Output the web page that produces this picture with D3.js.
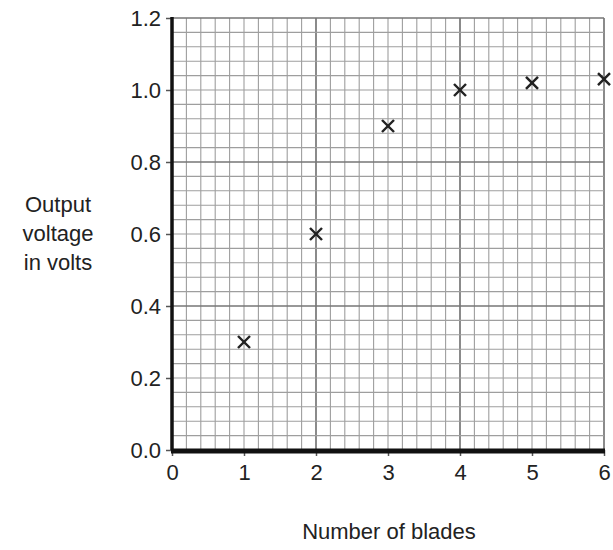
<!DOCTYPE html>
<html>
 <head>
   <title>Output voltage vs blades</title>
   <script type="text/javascript" src="https://cdn.jsdelivr.net/npm/d3@7"></script>
   <style type="text/css">
		body { margin: 0; background: #fff; }
		svg { width: 613px; height: 550px; display: block; }
		text {
			font-family: Arial, "Liberation Sans", sans-serif;
			fill: #222;
		}
		.minor { stroke: #9e9e9e; stroke-width: 1.1; }
		.major { stroke: #767676; stroke-width: 1.7; }
		.mark { stroke: #222; stroke-width: 2.4; }
   </style>
 </head>
 <body>
   <script type="text/javascript">

	// data
	var blades = [1, 2, 3, 4, 5, 6];
	var volts = [0.3, 0.6, 0.9, 1.0, 1.02, 1.03];

	var xTickVals = [0, 1, 2, 3, 4, 5, 6];
	var yTickVals = [0, 0.2, 0.4, 0.6, 0.8, 1.0, 1.2];
	var yTitle = ['Output', 'voltage', 'in volts'];
	var xTitle = 'Number of blades';

	var x = d3.scaleLinear().domain([0, 6]).range([172, 604]);
	var y = d3.scaleLinear().domain([0, 1.2]).range([450, 18]);

	var svg = d3.select('body').append('svg');

	// graph paper: small squares 0.2 across, 0.04 up; heavy lines every 2 / 0.4
	var xMinor = d3.range(0, 31).map(function(i) { return i * 0.2; });
	var yMinor = d3.range(0, 31).map(function(i) { return i * 0.04; });

	var grid = svg.append('g');
	grid.selectAll('line.vx').data(xMinor)
		.enter().append('line')
		.attr('class', function(d, i) { return i % 10 == 0 ? 'major' : 'minor'; })
		.attr('x1', function(d) { return x(d); })
		.attr('x2', function(d) { return x(d); })
		.attr('y1', y(0))
		.attr('y2', y(1.2));

	grid.selectAll('line.hy').data(yMinor)
		.enter().append('line')
		.attr('class', function(d, i) { return i % 10 == 0 ? 'major' : 'minor'; })
		.attr('y1', function(d) { return y(d); })
		.attr('y2', function(d) { return y(d); })
		.attr('x1', x(0))
		.attr('x2', x(6));

	// axes
	var xAxis = d3.axisBottom(x).tickValues(xTickVals).tickSize(6).tickPadding(8)
		.tickFormat(d3.format('d'));
	var yAxis = d3.axisLeft(y).tickValues(yTickVals).tickSize(6).tickPadding(5)
		.tickFormat(d3.format('.1f'));

	var gx = svg.append('g').attr('transform', 'translate(0,' + y(0) + ')').call(xAxis);
	var gy = svg.append('g').attr('transform', 'translate(' + x(0) + ',0)').call(yAxis);

	gx.select('.domain').remove();
	gy.select('.domain').remove();
	gx.selectAll('.tick line').attr('stroke', '#555').attr('stroke-width', 1.5);
	gy.selectAll('.tick line').attr('stroke', '#555').attr('stroke-width', 1.5);
	gx.selectAll('.tick text').attr('font-size', 22).attr('fill', '#222')
		.attr('font-family', 'Arial, "Liberation Sans", sans-serif');
	gy.selectAll('.tick text').attr('font-size', 22).attr('fill', '#222')
		.attr('font-family', 'Arial, "Liberation Sans", sans-serif');

	// heavy axis lines
	svg.append('line')
		.attr('x1', x(0) - 1).attr('x2', x(6) + 1)
		.attr('y1', y(0) + 1).attr('y2', y(0) + 1)
		.attr('stroke', '#111').attr('stroke-width', 5);
	svg.append('line')
		.attr('x1', x(0)).attr('x2', x(0))
		.attr('y1', y(1.2) - 1).attr('y2', y(0))
		.attr('stroke', '#111').attr('stroke-width', 3.5);

	// crosses
	var pts = blades.map(function(b, i) { return { b: b, v: volts[i] }; });
	var s = 6;
	var marks = svg.append('g').selectAll('g.pt').data(pts)
		.enter().append('g')
		.attr('transform', function(d) { return 'translate(' + x(d.b) + ',' + y(d.v) + ')'; });
	marks.append('line').attr('class', 'mark')
		.attr('x1', -s).attr('y1', -s).attr('x2', s).attr('y2', s);
	marks.append('line').attr('class', 'mark')
		.attr('x1', -s).attr('y1', s).attr('x2', s).attr('y2', -s);

	// titles
	svg.append('text')
		.attr('x', 389).attr('y', 539)
		.attr('text-anchor', 'middle')
		.attr('font-size', 22)
		.text(xTitle);

	svg.append('g').selectAll('text').data(yTitle)
		.enter().append('text')
		.attr('x', 58)
		.attr('y', function(d, i) { return 212 + i * 29; })
		.attr('text-anchor', 'middle')
		.attr('font-size', 22)
		.text(function(d) { return d; });

    </script>
 </body>
</html>
